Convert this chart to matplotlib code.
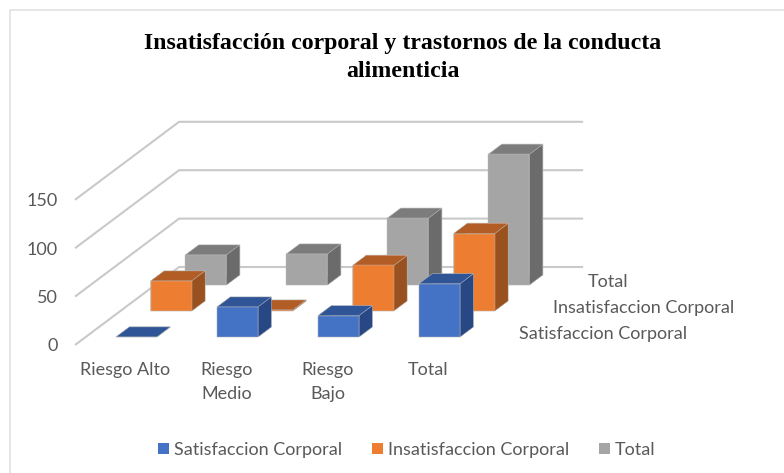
import numpy as np
import matplotlib
matplotlib.use('Agg')
from matplotlib import pyplot as plt
from matplotlib.lines import Line2D
from matplotlib.patches import Patch
from mpl_toolkits.mplot3d.art3d import Line3DCollection

categories = ['Riesgo Alto', 'Riesgo\nMedio', 'Riesgo\nBajo', 'Total']
series_names = ['Satisfaccion Corporal', 'Insatisfaccion Corporal', 'Total']
satisfaccion = [0, 31, 22, 55]
insatisfaccion = [31, 1, 47, 80]
total = [31, 32, 69, 135]
z_ticks = [0, 50, 100, 150]
title = 'Insatisfacción corporal y trastornos de la conducta\nalimenticia'

W, H = 784, 473
# front, top, side colours of every series
front_cols = ['#4472C4', '#ED7D31', '#A5A5A5']
top_cols = ['#2F5597', '#B25D25', '#7C7C7C']
side_cols = ['#284785', '#9A5120', '#6B6B6B']
TXT = '#595959'
GRID = '#C9C9C9'
LABEL_FONT = ['Lato', 'DejaVu Sans']
FS = 13

fig = plt.figure(figsize=(W / 100, H / 100), dpi=100)
ax = fig.add_axes([0, 0, 1, 1], projection='3d', computed_zorder=False)
ax.set_axis_off()
# excel style oblique view, no perspective
ax.apply_aspect = lambda position=None: None
vl = ax.viewLim
sx = (vl.x1 - vl.x0) / W
sy = (vl.y1 - vl.y0) / H
M = np.array([
    [101 * sx, 34.7 * sx, 0, vl.x0 + 75 * sx],
    [0, 26 * sy, 0.968 * sy, vl.y0 + (H - 345) * sy],
    [-1, 10, -0.01, 0],
    [0, 0, 0, 1.0],
])
ax.get_proj = lambda: M


def to_fig(x, y, z):
    p = M @ np.array([x, y, z, 1.0])
    return (p[0] - vl.x0) / (vl.x1 - vl.x0), (p[1] - vl.y0) / (vl.y1 - vl.y0)


# gridlines on the side and back walls
grid_segs = [[(0, 0, z), (0, 3, z), (4, 3, z)] for z in z_ticks]
ax.add_collection3d(Line3DCollection(grid_segs, colors=GRID, linewidths=1.5, zorder=5))

all_values = [satisfaccion, insatisfaccion, total]
for s in [2, 1, 0]:
    for c, v in enumerate(all_values[s]):
        faces = [top_cols[s], top_cols[s], front_cols[s], front_cols[s], side_cols[s], side_cols[s]]
        ax.bar3d(c + 0.3, s + 0.31, 0, 0.406, 0.385, v, color=faces, shade=False,
                 edgecolor='#BDBDBD', linewidth=0.3, zorder=10 + (2 - s))

for z in z_ticks:
    fx, fy = to_fig(-0.17, 0, z - 1.5)
    fig.text(fx, fy, str(z), ha='right', va='center', color=TXT, fontsize=FS, family=LABEL_FONT)
for c, lab in enumerate(categories):
    fx, fy = to_fig(c + 0.5, 0, -18)
    fig.text(fx, fy, lab, ha='center', va='top', color=TXT, fontsize=FS,
             family=LABEL_FONT, linespacing=1.6)
for s, lab in enumerate(series_names):
    fx, fy = to_fig(4.22, s + 0.5, -2)
    fig.text(fx, fy, lab, ha='left', va='center', color=TXT, fontsize=FS, family=LABEL_FONT)

fig.text(403 / W, 1 - 57.5 / H, title, ha='center', va='center', family='Liberation Serif',
         fontweight='bold', fontsize=17.2, color='black', linespacing=1.41)

handles = [Patch(facecolor=col, edgecolor='none') for col in front_cols]
fig.legend(handles, series_names, loc='center', bbox_to_anchor=(407 / W, 1 - 450 / H), ncol=3,
           frameon=False, handlelength=0.61, handleheight=0.61, handletextpad=0.27,
           columnspacing=1.66, labelcolor=TXT, prop={'family': LABEL_FONT, 'size': FS})

# chart frame, only top and left are inside the picture
fig.add_artist(Line2D([10 / W, 10 / W, 1], [0, 1 - 10 / H, 1 - 10 / H], transform=fig.transFigure,
                      color='#E2E2E2', lw=1.2))

fig.savefig('out.png', dpi=100)
